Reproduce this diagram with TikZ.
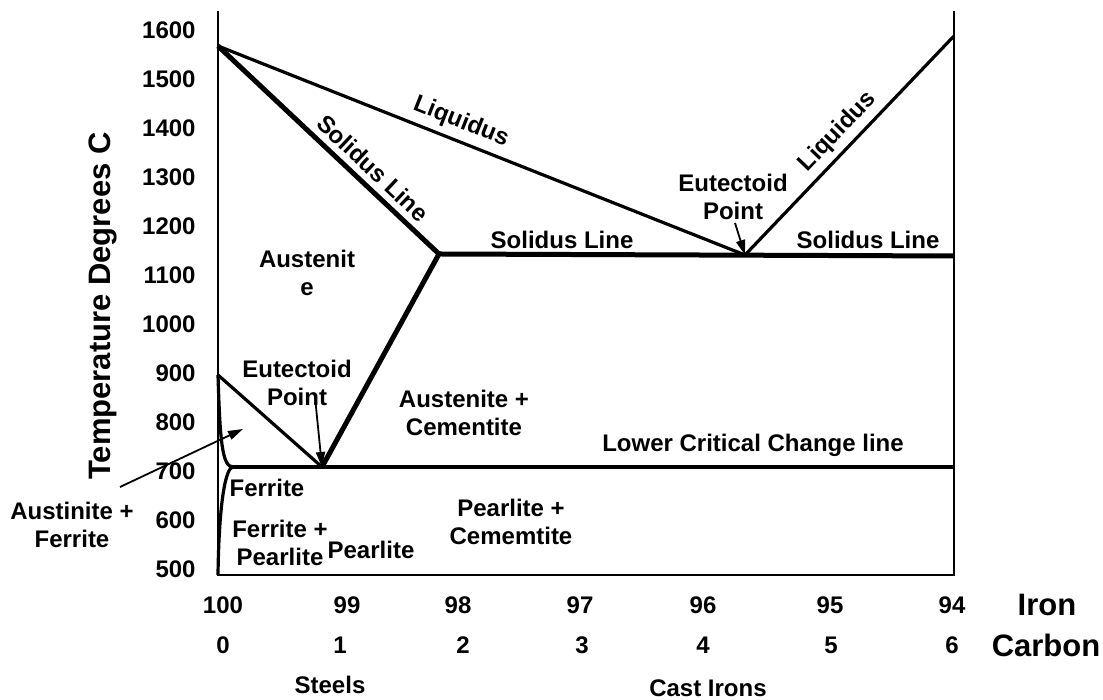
\documentclass[tikz,border=0pt]{standalone}
\usepackage{fontspec}
\setmainfont{Liberation Sans}
\usetikzlibrary{arrows.meta}

\begin{document}
\begin{tikzpicture}[x=0.5pt,y=0.5pt,
    lab/.style={font=\fontsize{12}{14}\selectfont\bfseries, align=center, inner sep=0pt},
    big/.style={font=\fontsize{15.5}{18}\selectfont\bfseries, inner sep=0pt},
    axisline/.style={line width=1.4pt},
    phaseline/.style={line width=1.6pt},
    solidline/.style={line width=2.5pt},
    pointer/.style={line width=0.9pt, -{Triangle[length=7.5pt,width=4.5pt]}}]
    \useasboundingbox (0,0) rectangle (1103,700);
    % corner and phase points
    \coordinate (O) at (218,125);
    \coordinate (TL) at (218,689);
    \coordinate (BR) at (954,125);
    \coordinate (TR) at (954,689);
    \coordinate (A) at (218,654);
    \coordinate (E) at (745,445);
    \coordinate (L) at (954,664);
    \coordinate (J) at (439,446);
    \coordinate (K) at (954,444);
    \coordinate (S) at (322,233);
    \coordinate (G) at (218,325);
    \coordinate (C) at (233,233);
    % frame
    \draw[axisline] (TL) -- (O) -- (BR) -- (TR);
    % lines
    \draw[phaseline] (A) -- (E) -- (L);
    \draw[solidline] (A) -- (J) -- (S);
    \draw[solidline] (J) -- (K);
    \draw[phaseline] (C) -- (BR |- C);
    \draw[phaseline] (G) -- (S);
    \draw[phaseline] (G) .. controls (220,260) and (222,233) .. (C);
    \draw[phaseline] (O) .. controls (219,200) and (226,233) .. (C);
    % temperature scale
    \foreach \t [count=\i from 0] in {1600,1500,...,500}
        \node[lab, anchor=east] (t\t) at (196,{670-49*\i}) {\t};
    \node[big, rotate=90] (ytitle) at (103,394) {Temperature Degrees C};
    % composition scale
    \foreach \fe/\xp in {100/223,99/347,98/458,97/580,96/703,95/830,94/952}
        \node[lab] (fe\fe) at (\xp,95) {\fe};
    \foreach \cc/\xp in {0/223,1/340,2/463,3/582,4/703,5/831,6/952}
        \node[lab] (c\cc) at (\xp,55) {\cc};
    \node[big] (iron) at (1047,95) {Iron};
    \node[big] (carbon) at (1046,55) {Carbon};
    \node[lab] (steels) at (330,15) {Steels};
    \node[lab] (cast) at (708,12) {Cast Irons};
    % line labels
    \node[lab, rotate=-21.6] (liqL) at (461,578) {Liquidus};
    \node[lab, rotate=46.3] (liqR) at (838,568) {Liquidus};
    \node[lab, rotate=-43.3] (solS) at (373,532) {Solidus Line};
    \node[lab] (solM) at (562,460) {Solidus Line};
    \node[lab] (solR) at (868,460) {Solidus Line};
    \node[lab] (lcl) at (753,255) {Lower Critical Change line};
    % regions
    \node[lab] (aus) at (307,427) {Austenit\\e};
    \node[lab] (auscem) at (464,287) {Austenite +\\Cementite};
    \node[lab] (fer) at (267,212) {Ferrite};
    \node[lab] (ferpea) at (280,157) {Ferrite +\\Pearlite};
    \node[lab] (pea) at (371,150) {Pearlite};
    \node[lab] (peacem) at (511,178) {Pearlite +\\Cememtite};
    \node[lab] (ausfer) at (72,175) {Austinite +\\Ferrite};
    % eutectoid points
    \node[lab] (eutL) at (297,317) {Eutectoid\\Point};
    \node[lab] (eutR) at (733,503) {Eutectoid\\Point};
    \coordinate (aL) at (315,303);
    \coordinate (aR) at (735,477);
    \coordinate (aF) at (120,213);
    \coordinate (F) at (243,271);
    \draw[pointer] (aL) -- (S);
    \draw[pointer] (aR) -- (E);
    \draw[pointer] (aF) -- (F);
\end{tikzpicture}
\end{document}
